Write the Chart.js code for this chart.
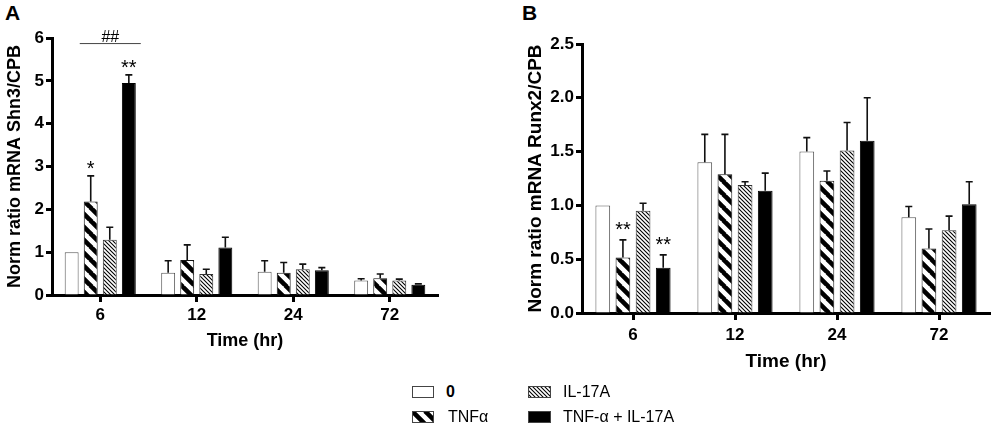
<!DOCTYPE html>
<html lang="en">
<head>
<meta charset="UTF-8">
<title>Shn3 and Runx2 mRNA</title>
<script src="https://cdn.jsdelivr.net/npm/chart.js"></script>
<style>
  body { margin: 0; background: #fff; font-family: "Liberation Sans", Arial, sans-serif; }
  #page { position: relative; width: 992px; height: 426px; overflow: hidden; }
  #page > canvas { position: absolute; }
  #chartA { left: 0; top: 0; }
  #chartB { left: 490px; top: 0; }
  .panel { position: absolute; top: 1px; font-weight: bold; font-size: 21px; }
  .legend { position: absolute; height: 20px; display: flex; align-items: center; font-size: 16px; }
  .legend canvas { border: 1px solid #444; margin-right: 12px; }
</style>
</head>
<body>
<div id="page">
  <div class="panel" style="left:5px">A</div>
  <div class="panel" style="left:522px">B</div>

  <canvas id="chartA" width="450" height="355"></canvas>
  <canvas id="chartB" width="502" height="376"></canvas>

  <!-- legend -->
  <div class="legend" style="left:412px; top:382px"><canvas id="sw0" width="20" height="10"></canvas><b>0</b></div>
  <div class="legend" style="left:528px; top:382px"><canvas id="sw2" width="21" height="10"></canvas>IL-17A</div>
  <div class="legend" style="left:412px; top:407px"><canvas id="sw1" width="20" height="10"></canvas><span style="margin-left:2px">TNFα</span></div>
  <div class="legend" style="left:528px; top:407px"><canvas id="sw3" width="21" height="10"></canvas>TNF-α + IL-17A</div>
</div>

<script>
const timeLabels = ['6', '12', '24', '72'];
const seriesNames = ['0', 'TNFα', 'IL-17A', 'TNF-α + IL-17A'];

// A: Shn3/CPB
const shn3Ctrl = [1.0, 0.52, 0.54, 0.34];
const shn3Tnf  = [2.18, 0.82, 0.52, 0.39];
const shn3Il17 = [1.29, 0.49, 0.60, 0.34];
const shn3Both = [4.95, 1.11, 0.58, 0.24];
const shn3CtrlErr = [0, 0.28, 0.26, 0.04];
const shn3TnfErr  = [0.60, 0.35, 0.24, 0.10];
const shn3Il17Err = [0.29, 0.11, 0.12, 0.03];
const shn3BothErr = [0.19, 0.24, 0.06, 0.02];

// B: Runx2/CPB
const runx2Ctrl = [1.0, 1.40, 1.50, 0.89];
const runx2Tnf  = [0.515, 1.29, 1.23, 0.60];
const runx2Il17 = [0.95, 1.19, 1.51, 0.77];
const runx2Both = [0.42, 1.135, 1.60, 1.01];
const runx2CtrlErr = [0, 0.26, 0.13, 0.10];
const runx2TnfErr  = [0.165, 0.37, 0.09, 0.18];
const runx2Il17Err = [0.07, 0.03, 0.26, 0.13];
const runx2BothErr = [0.12, 0.165, 0.40, 0.21];

// y axes
const yMaxA = 6, yStepA = 1;
const yMaxB = 2.5, yStepB = 0.5;

// significance marks: [series, time index, text]
const starsA = [[1, 0, '*'], [3, 0, '**']];
const starsB = [[1, 0, '**'], [3, 0, '**']];
// ## bracket over 6 hr: from series 1 to series 3 at value
const bracketA = { from: 1, to: 3, idx: 0, value: 5.87, text: '##' };

function stripes(period, lineW) {
  const c = document.createElement('canvas');
  c.width = period; c.height = period;
  const g = c.getContext('2d');
  g.fillStyle = '#fff';
  g.fillRect(0, 0, period, period);
  g.strokeStyle = '#000';
  g.lineWidth = lineW;
  g.beginPath();
  for (const k of [-period, 0, period]) {
    g.moveTo(k - 1, -1);
    g.lineTo(k + period + 1, period + 1);
  }
  g.stroke();
  return g.createPattern(c, 'repeat');
}

const fills = ['#fff', stripes(13, 4.6), stripes(4, 1.1), '#000'];
const borders = ['#555', '#111', '#333', '#000'];

const errorBars = {
  id: 'errorBars',
  afterDatasetsDraw(chart, args, opts) {
    const { ctx } = chart;
    const y = chart.scales.y;
    ctx.save();
    ctx.strokeStyle = '#111';
    ctx.lineWidth = 1.6;
    const tops = [];
    chart.data.datasets.forEach((ds, i) => {
      const meta = chart.getDatasetMeta(i);
      tops[i] = [];
      meta.data.forEach((bar, j) => {
        const e = ds.err[j];
        const top = y.getPixelForValue(ds.data[j] + e);
        tops[i][j] = top;
        if (!e) return;
        ctx.beginPath();
        ctx.moveTo(bar.x, bar.y);
        ctx.lineTo(bar.x, top);
        ctx.moveTo(bar.x - 3.5, top);
        ctx.lineTo(bar.x + 3.5, top);
        ctx.stroke();
      });
    });

    ctx.fillStyle = '#000';
    ctx.textAlign = 'center';
    ctx.textBaseline = 'alphabetic';
    ctx.font = '20px "Liberation Sans", Arial, sans-serif';
    (opts.stars || []).forEach(([s, j, t]) => {
      const bar = chart.getDatasetMeta(s).data[j];
      ctx.fillText(t, bar.x, tops[s][j] - opts.starGap);
    });

    const b = opts.bracket;
    if (b) {
      const b1 = chart.getDatasetMeta(b.from).data[b.idx];
      const b2 = chart.getDatasetMeta(b.to).data[b.idx];
      const yy = y.getPixelForValue(b.value);
      const x1 = b1.x - b1.width / 2 - 4;
      const x2 = b2.x + b2.width / 2 + 5;
      ctx.strokeStyle = '#444';
      ctx.lineWidth = 1;
      ctx.beginPath();
      ctx.moveTo(x1, yy);
      ctx.lineTo(x2, yy);
      ctx.stroke();
      ctx.font = '16px "Liberation Sans", Arial, sans-serif';
      ctx.fillText(b.text, (x1 + x2) / 2, yy - 2);
    }
    ctx.restore();
  }
};

function makeChart(id, data, errs, cfg) {
  const datasets = data.map((d, i) => ({
    label: seriesNames[i],
    data: d,
    err: errs[i],
    backgroundColor: fills[i],
    borderColor: borders[i],
    borderWidth: 1,
    categoryPercentage: 0.79,
    barPercentage: 0.73
  }));
  const tickFont = { family: '"Liberation Sans", Arial, sans-serif', size: 17, weight: 'bold' };
  const titleFont = { family: '"Liberation Sans", Arial, sans-serif', size: cfg.titleSize, weight: 'bold' };
  return new Chart(document.getElementById(id), {
    type: 'bar',
    data: { labels: timeLabels, datasets },
    plugins: [errorBars],
    options: {
      responsive: false,
      animation: false,
      layout: { padding: cfg.padding },
      plugins: {
        legend: { display: false },
        tooltip: { enabled: false },
        errorBars: { stars: cfg.stars, starGap: cfg.starGap, bracket: cfg.bracket }
      },
      scales: {
        x: {
          grid: { display: true, drawOnChartArea: false, drawTicks: true, offset: false,
                  tickLength: 7, tickWidth: 3, tickColor: '#000' },
          border: { display: true, color: '#000', width: 3 },
          ticks: { color: '#000', font: tickFont, padding: cfg.xPad },
          title: { display: true, text: 'Time (hr)', color: '#000', font: titleFont, padding: { top: 0, bottom: 3 } },
          afterFit: s => { s.height = cfg.xHeight; }
        },
        y: {
          min: 0,
          max: cfg.yMax,
          grid: { display: true, drawOnChartArea: false, drawTicks: true,
                  tickLength: 6, tickWidth: 3, tickColor: '#000' },
          border: { display: true, color: '#000', width: 3 },
          ticks: { stepSize: cfg.yStep, color: '#000', font: tickFont, padding: 2,
                   callback: cfg.tickFmt },
          title: { display: true, text: cfg.yTitle, color: '#000', font: titleFont, padding: { top: 4, bottom: 0 } },
          afterFit: s => { s.width = cfg.yWidth; }
        }
      }
    }
  });
}

makeChart('chartA',
  [shn3Ctrl, shn3Tnf, shn3Il17, shn3Both],
  [shn3CtrlErr, shn3TnfErr, shn3Il17Err, shn3BothErr],
  { padding: { top: 38, right: 12, left: 0, bottom: 0 }, yWidth: 52, xHeight: 60, xPad: 3,
    yMax: yMaxA, yStep: yStepA, tickFmt: v => v.toFixed(0), titleSize: 18,
    yTitle: 'Norm ratio mRNA Shn3/CPB', stars: starsA, starGap: 1, bracket: bracketA });

makeChart('chartB',
  [runx2Ctrl, runx2Tnf, runx2Il17, runx2Both],
  [runx2CtrlErr, runx2TnfErr, runx2Il17Err, runx2BothErr],
  { padding: { top: 44, right: 2, left: 30, bottom: 0 }, yWidth: 62, xHeight: 63, xPad: 5,
    yMax: yMaxB, yStep: yStepB, tickFmt: v => v.toFixed(1), titleSize: 19,
    yTitle: 'Norm ratio mRNA Runx2/CPB', stars: starsB, starGap: 4, bracket: null });

// legend swatches
for (let i = 0; i < 4; i++) {
  const c = document.getElementById('sw' + i);
  const g = c.getContext('2d');
  g.fillStyle = fills[i];
  g.fillRect(0, 0, c.width, c.height);
}
</script>
</body>
</html>
